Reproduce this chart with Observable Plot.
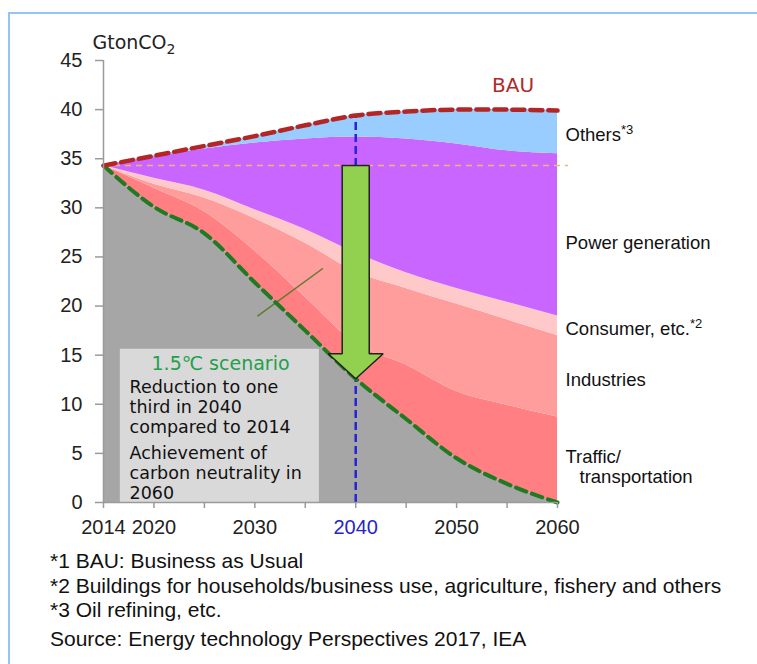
<!DOCTYPE html>
<html><head><meta charset="utf-8">
<script src="https://cdn.jsdelivr.net/npm/d3@7"></script>
<script src="https://cdn.jsdelivr.net/npm/@observablehq/plot@0.6"></script>
<style>
html,body{margin:0;padding:0;background:#fff;}
#page{position:relative;width:757px;height:664px;overflow:hidden;background:#fff;}
#chart{position:absolute;left:0;top:0;}
#frame{position:absolute;left:8px;top:12px;width:800px;height:700px;border:2px solid #93c6f7;pointer-events:none;z-index:5;}
#notes{position:absolute;left:50px;top:549px;font-family:"Liberation Sans",Arial,sans-serif;font-size:21px;color:#111;line-height:24.5px;white-space:nowrap;}
#notes .src{margin-top:4px;}
</style></head><body>
<div id="page">
<div id="chart"></div>
<div id="frame"></div>
<div id="notes">
<div>*1 BAU: Business as Usual</div>
<div>*2 Buildings for households/business use, agriculture, fishery and others</div>
<div>*3 Oil refining, etc.</div>
<div class="src">Source: Energy technology Perspectives 2017, IEA</div>
</div>
</div>
<script>
// ---- data (GtCO2, cumulative band tops) ----
const years       = [2014, 2020, 2025, 2030, 2035, 2040, 2045, 2050, 2055, 2060];
const bau         = [34.3, 35.3, 36.3, 37.3, 38.4, 39.4, 39.8, 40.0, 40.0, 39.9];
const powerTop    = [34.3, 35.2, 36.0, 36.6, 37.0, 37.2, 37.0, 36.5, 35.8, 35.5];
const consumerTop = [34.3, 33.0, 31.8, 29.8, 27.8, 25.4, 23.4, 21.8, 20.4, 19.0];
const industryTop = [34.3, 32.4, 31.0, 28.9, 26.4, 23.5, 21.8, 20.2, 18.6, 17.0];
const trafficTop  = [34.3, 32.0, 29.6, 25.6, 20.9, 16.2, 14.0, 11.3, 9.9, 8.7];
const scenario15  = [34.3, 30.1, 27.4, 22.4, 17.5, 12.6, 8.5, 4.5, 1.9, 0.0];

const yTicks = [0, 5, 10, 15, 20, 25, 30, 35, 40, 45];
const xTicks = [2014, 2020, 2025, 2030, 2035, 2040, 2045, 2050, 2055, 2060];
const xLabels = [2014, 2020, 2030, 2040, 2050, 2060];

const bandNames  = ["Traffic/transportation", "Industries", "Consumer", "Power generation", "Others"];
const bandColors = ["#ff7f82", "#ff9c9c", "#ffc9c9", "#c966ff", "#99ccff"];

const rightLabels = [
  {text: "Others*3", y: 37.4, dx: 8},
  {text: "Power generation", y: 26.4, dx: 8},
  {text: "Consumer, etc.*2", y: 17.7, dx: 8},
  {text: "Industries", y: 12.5, dx: 8},
  {text: "Traffic/", y: 4.6, dx: 8},
  {text: "transportation", y: 2.55, dx: 22}
];

const boxLines = [
  {text: "Reduction to one", y: 11.71},
  {text: "third in 2040", y: 9.67},
  {text: "compared to 2014", y: 7.64},
  {text: "Achievement of", y: 4.99},
  {text: "carbon neutrality in", y: 2.95},
  {text: "2060", y: 0.92}
];
const box = {x1: 2016.0, x2: 2036.4, y1: 0, y2: 15.6};
const boxTextX = 2017.1;
const boxTitle = {text: "1.5℃ scenario", x: 2026.6, y: 14.15};
const leader = [[2030.3, 19.0], [2036.7, 23.8]];

// ---- derived tables ----
const rows = years.map((yr, i) => ({year: yr, bau: bau[i], power: powerTop[i], consumer: consumerTop[i],
  industry: industryTop[i], traffic: trafficTop[i], s15: scenario15[i]}));
const bandLo = ["s15", "traffic", "industry", "consumer", "power"];
const bandHi = ["traffic", "industry", "consumer", "power", "bau"];

const i40 = years.indexOf(2040);
const arrowX = 2040, arrowTop = scenario15[0], arrowTip = scenario15[i40];
const shaftHalf = 1.34, headHalf = 2.72, headLen = 2.55;
const arrowPts = [
  [arrowX - shaftHalf, arrowTop], [arrowX + shaftHalf, arrowTop],
  [arrowX + shaftHalf, arrowTip + headLen], [arrowX + headHalf, arrowTip + headLen],
  [arrowX, arrowTip],
  [arrowX - headHalf, arrowTip + headLen], [arrowX - shaftHalf, arrowTip + headLen],
  [arrowX - shaftHalf, arrowTop]
];

const left = 103, right = 557;
const pxYear = (right - left) / 45;
const curve = "monotone-x";
const sans = "Liberation Sans, Arial, sans-serif";
const dv = "DejaVu Sans, sans-serif";

const marks = [];
bandNames.forEach((name, k) => {
  marks.push(Plot.areaY(rows, {x: "year", y1: bandLo[k], y2: bandHi[k], fill: bandColors[k], curve}));
});
marks.push(Plot.areaY(rows, {x: "year", y1: 0, y2: "s15", fill: "#a6a6a6", curve}));
marks.push(Plot.rect([box], {x1: "x1", x2: "x2", y1: "y1", y2: "y2", fill: "#d9d9d9"}));
marks.push(Plot.line(leader, {x: d => d[0], y: d => d[1], stroke: "#5e7d2c", strokeWidth: 1.5}));
marks.push(Plot.ruleY([scenario15[0]], {x1: 2014, x2: 2061.1, stroke: "#f3b27a", strokeWidth: 1.5, strokeDasharray: "6,5"}));
marks.push(Plot.ruleX([2040], {y1: 0, y2: bau[i40], stroke: "#2424d8", strokeWidth: 2.5, strokeDasharray: "8,4"}));
marks.push(Plot.line(rows, {x: "year", y: "s15", stroke: "#1f7a22", strokeWidth: 4, strokeDasharray: "11,6", curve}));
marks.push(Plot.line(rows, {x: "year", y: "bau", stroke: "#b32626", strokeWidth: 4.5, strokeDasharray: "12,6", curve}));
marks.push(Plot.line(arrowPts, {x: d => d[0], y: d => d[1], fill: "#92d050", stroke: "#222", strokeWidth: 1.5, strokeLinejoin: "miter"}));
// axes
marks.push(Plot.ruleX([2014], {y1: 0, y2: 45, stroke: "#9a9a9a", strokeWidth: 1.5}));
marks.push(Plot.ruleY([0], {x1: 2014, x2: 2060, stroke: "#9a9a9a", strokeWidth: 1.5}));
marks.push(Plot.axisY({ticks: yTicks, tickSize: 8, tickPadding: 13, fontSize: 20, fontFamily: sans, stroke: "#9a9a9a", fill: "#222", strokeWidth: 1.5}));
marks.push(Plot.axisX({ticks: xTicks, tickSize: 6, tickFormat: () => "", stroke: "#9a9a9a", strokeWidth: 1.5}));
marks.push(Plot.text(xLabels, {x: d => d, y: 0, dy: 25, text: d => String(d), fontSize: 20, fontFamily: sans,
  fill: d => d === 2040 ? "#2626c8" : "#222"}));
// labels
marks.push(Plot.text(["GtonCO2"], {x: 2014, y: 46.75, dx: -11, text: d => d, textAnchor: "start", fontSize: 19, fontFamily: dv, fill: "#222"}));
marks.push(Plot.text(["BAU"], {x: 2055.6, y: 42.46, text: d => d, fontSize: 20, fontFamily: dv, fill: "#b02a2a"}));
marks.push(Plot.text(rightLabels, {x: 2060, y: "y", dx: 8, text: "text", textAnchor: "start", fontSize: 18.5, fontFamily: sans, fill: "#111"}));
marks.push(Plot.text([boxTitle], {x: "x", y: "y", text: "text", fontSize: 19, fontFamily: dv, fill: "#22a04b"}));
marks.push(Plot.text(boxLines, {x: boxTextX, y: "y", text: "text", textAnchor: "start", fontSize: 17.5, fontFamily: dv, fill: "#111"}));

const chart = Plot.plot({
  width: 757, height: 545,
  marginLeft: left, marginRight: 757 - right, marginTop: 60, marginBottom: 43,
  x: {type: "linear", domain: [2014, 2020, 2060], range: [left, left + 5 * pxYear, right]},
  y: {domain: [0, 45]},
  style: {fontFamily: sans, background: "transparent", overflow: "visible"},
  marks
});
document.getElementById("chart").appendChild(chart);

// super/subscripts and per-label offsets
chart.querySelectorAll("text").forEach(el => {
  const t = el.textContent;
  const lab = rightLabels.find(r => r.text === t);
  if (lab && lab.dx !== 8) {
    const tr = el.getAttribute("transform") || "";
    el.setAttribute("transform", tr + ` translate(${lab.dx - 8},0)`);
  }
  let m = t.match(/^(.*?)(\*\d)$/);
  if (m) {
    el.textContent = m[1];
    const ts = document.createElementNS("http://www.w3.org/2000/svg", "tspan");
    ts.setAttribute("font-size", "13");
    ts.setAttribute("dy", "-7");
    ts.textContent = m[2];
    el.appendChild(ts);
  } else if (t === "GtonCO2") {
    el.textContent = "GtonCO";
    const ts = document.createElementNS("http://www.w3.org/2000/svg", "tspan");
    ts.setAttribute("font-size", "14");
    ts.setAttribute("dy", "5");
    ts.textContent = "2";
    el.appendChild(ts);
  }
});
</script>
</body></html>
